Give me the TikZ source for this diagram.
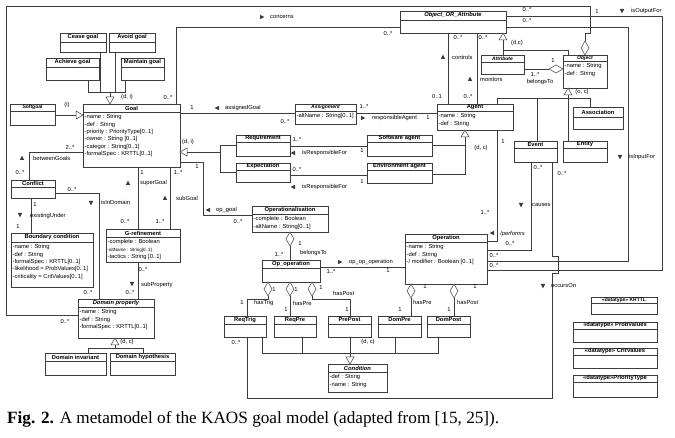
\documentclass[tikz,border=0pt]{standalone}
\usepackage{fontspec}
\setmainfont{Liberation Sans}
\newfontfamily\capfont{Liberation Serif}
\definecolor{lc}{RGB}{60,60,60}
\newcommand\ttlfont{\bfseries\fontsize{5.8}{6}\selectfont}
\newcommand\attfont{\fontsize{5.8}{7.4}\selectfont}
\newcommand\lblfont{\fontsize{5.8}{7}\selectfont}
\newcommand\smt{\fontsize{5}{5}\selectfont}
\newcounter{lab}
\tikzset{
  cls/.style={draw=lc, line width=0.6pt, inner sep=0pt, outer sep=0pt, anchor=north west},
  ttl/.style={font=\ttlfont, inner sep=0pt},
  att/.style={font=\attfont, inner sep=0pt, anchor=north west, align=left},
  lbl/.style={font=\lblfont, inner sep=0pt},
  conn/.style={draw=lc, line width=0.5pt},
  gen/.style={draw=lc, line width=0.5pt, fill=white},
}
% name, x1, y1, x2, y2, separator y, title, attributes
\newcommand\ubox[8]{%
  \node[cls, minimum width={(#4-#2)*1pt}, minimum height={(#5-#3)*1pt}] (#1) at (#2,#3) {};
  \draw[lc, line width=0.5pt] (#2,#6) -- (#4,#6);
  \node[ttl] (#1-t) at ({(#2+#4)/2},{(#3+#6)/2}) {#7};
  \node[att] (#1-a) at (#2+1.5,#6+2.3) {#8};
}
\newcommand\lab[2]{\stepcounter{lab}\node[lbl] (lab\thelab) at (#1) {#2};}
\newcommand\labw[2]{\stepcounter{lab}\node[lbl,anchor=west] (lab\thelab) at (#1) {#2};}
\newcommand\arU[1]{\fill[lc] (#1) ++(-2.2,2) -- ++(4.4,0) -- ++(-2.2,-4.4) -- cycle;}
\newcommand\arD[1]{\fill[lc] (#1) ++(-2.2,-2) -- ++(4.4,0) -- ++(-2.2,4.4) -- cycle;}
\newcommand\arL[1]{\fill[lc] (#1) ++(2,-2.2) -- ++(0,4.4) -- ++(-4.4,-2.2) -- cycle;}
\newcommand\arR[1]{\fill[lc] (#1) ++(-2,-2.2) -- ++(0,4.4) -- ++(4.4,-2.2) -- cycle;}
\newcommand\dtype{\textless\textless datatype\textgreater\textgreater}
\begin{document}
\begin{tikzpicture}[x=1pt,y=-1pt]
\useasboundingbox (0,0) rectangle (675,438);
\fill[white] (0,0) rectangle (675,438);

% ---------- classes ----------
\ubox{cease}{60}{33}{106}{52}{42}{Cease goal}{}
\ubox{avoid}{109}{33}{155}{52}{42}{Avoid goal}{}
\ubox{achieve}{46}{58}{99}{80}{67}{Achieve goal}{}
\ubox{maintain}{121}{58}{164}{80}{67}{Maintain goal}{}
\ubox{soft}{10}{104}{55}{125}{111}{\smt Softgoal}{}
\ubox{goal}{83}{104}{180}{167}{112}{Goal}{-name : String\\-def : String\\-priority : PriorityType[0..1]\\-owner : String [0..1]\\-categor : String[0..1]\\-formalSpec : KRTTL[0..1]}
\ubox{objattr}{400}{11}{506}{33}{20}{\itshape Object\_OR\_Attribute}{}
\ubox{attribute}{481}{55}{524}{74}{62}{\smt\itshape Attribute}{}
\ubox{object}{563}{55}{607}{88}{61}{\smt\itshape Object}{-name : String\\-def : String}
\ubox{assignment}{295}{104}{356}{124}{111}{\smt\itshape Assignment}{-altName : String[0..1]}
\ubox{agent}{437}{104}{513}{130}{111}{Agent}{-name : String\\-def : String}
\ubox{requirement}{236}{135}{290}{156}{142}{Requirement}{}
\ubox{expectation}{236}{163}{290}{182}{170}{Expectation}{}
\ubox{softagent}{367}{135}{432}{156}{142}{Software agent}{}
\ubox{envagent}{367}{163}{432}{183}{170}{Environment agent}{}
\ubox{association}{573}{107}{623}{129}{117}{Association}{}
\ubox{event}{514}{141}{557}{162}{148}{Event}{}
\ubox{entity}{563}{141}{607}{162}{148}{Entity}{}
\ubox{conflict}{11}{180}{55}{198}{187}{Conflict}{}
\ubox{boundary}{11}{233}{93}{287}{242}{Boundary condition}{-name : String\\-def : String\\-formalSpec : KRTTL[0..1]\\-likelihood = ProbValues[0..1]\\-criticality = CritValues[0..1]}
\ubox{grefinement}{106}{229}{180}{262}{237}{G-refinement}{-complete : Boolean\\{\fontsize{4.5}{7.4}\selectfont -altName : String[0..1]}\\-tactics : String [0..1]}
\ubox{operationalisation}{252}{206}{328}{232}{214}{Operationalisation}{-complete : Boolean\\-altName : String[0..1]}
\ubox{opoperation}{262}{260}{320}{282}{268}{Op\_operation}{}
\ubox{operation}{405}{234}{487}{284}{242}{Operation}{-name : String\\-def : String\\-/ modifier : Boolean [0..1]}
\ubox{domprop}{78}{299}{154}{338}{307}{\itshape Domain property}{-name : String\\-def : String\\-formalSpec : KRTTL[0..1]}
\ubox{dominv}{45}{353}{106}{375}{361}{Domain invariant}{}
\ubox{domhyp}{110}{353}{175}{375}{361}{Domain hypothesis}{}
\ubox{reqtrig}{224}{316}{266}{337}{324}{ReqTrig}{}
\ubox{reqpre}{274}{316}{316}{337}{324}{ReqPre}{}
\ubox{prepost}{328}{316}{371}{337}{324}{PrePost}{}
\ubox{dompre}{378}{316}{421}{337}{324}{DomPre}{}
\ubox{dompost}{427}{316}{470}{337}{324}{DomPost}{}
\ubox{condition}{328}{364}{387}{392}{372}{\itshape Condition}{-def : String\\-name : String}
\ubox{krttl}{591}{297}{657}{314}{303}{\fontsize{5}{5}\selectfont\dtype{} KRTTL}{}
\ubox{probvalues}{573}{322}{657}{342}{329}{\dtype{} ProbValues}{}
\ubox{critvalues}{573}{348}{657}{368}{355}{\dtype{} CritValues}{}
\ubox{prioritytype}{573}{375}{657}{397}{382}{\dtype PriorityType}{}

% ---------- connectors ----------
% goal subclasses
\draw[conn] (achieve.south -| 88,0) -- (88,92) -- (125,92) -- (maintain.south -| 125,0);
\draw[conn] (cease.south -| 100,0) -- (100,92);
\draw[conn] (avoid.south -| 115,0) -- (115,92);
\draw[conn] (110,92) -- (110,97);
\filldraw[gen] (goal.north -| 110,0) -- ++(-4,-7) -- ++(8,0) -- cycle;
% softgoal
\draw[conn] (soft.east |- 0,115) -- (76,115);
\filldraw[gen] (goal.west |- 0,115) -- ++(-7,-4) -- ++(0,8) -- cycle;
% concerns
\draw[conn] (goal.north -| 176,0) -- (176,27) -- (objattr.west |- 0,27);
% domain property belongs to object
\filldraw[gen] (object.north -| 585,0) -- ++(4,-7) -- ++(-4,-7) -- ++(-4,7) -- cycle;
\draw[conn] (585,41) -- (585,33) -- (590,33) -- (590,6) -- (6,6) -- (6,315) -- (domprop.west |- 0,315);
% controls / monitors
\draw[conn] (objattr.south -| 448,0) -- (agent.north -| 448,0);
\draw[conn] (objattr.south -| 477,0) -- (agent.north -| 477,0);
% attribute / object generalisation
\filldraw[gen] (objattr.south -| 503,0) -- ++(-4,7) -- ++(8,0) -- cycle;
\draw[conn] (503,40) -- (attribute.north -| 503,0);
\draw[conn] (503,50) -- (568,50) -- (object.north -| 568,0);
% belongsTo attribute
\filldraw[gen] (object.west |- 0,69) -- ++(-7,-4) -- ++(-7,4) -- ++(7,4) -- cycle;
\draw[conn] (549,69) -- (attribute.east |- 0,69);
% object subclasses
\filldraw[gen] (object.south -| 568,0) -- ++(-4,7) -- ++(8,0) -- cycle;
\draw[conn] (568,95) -- (568,98);
\draw[conn] (agent.north -| 497,0) -- (497,98) -- (590,98) -- (association.north -| 590,0);
\draw[conn] (537,98) -- (event.north -| 537,0);
\draw[conn] (568,98) -- (entity.north -| 568,0);
% isOutputFor / isInputFor
\draw[conn] (objattr.east |- 0,16) -- (662,16) -- (662,270) -- (operation.east |- 0,270);
\draw[conn] (objattr.east |- 0,27) -- (628,27) -- (628,261) -- (operation.east |- 0,261);
% assignedGoal / responsibleAgent
\draw[conn] (goal.east |- 0,113) -- (assignment.west |- 0,113);
\draw[conn] (assignment.east |- 0,113) -- (agent.west |- 0,113);
% requirement / expectation generalisation
\filldraw[gen] (goal.east |- 0,152) -- ++(7,-4) -- ++(0,8) -- cycle;
\draw[conn] (187,152) -- (220,152);
\draw[conn] (requirement.west |- 0,145) -- (220,145) -- (220,172) -- (expectation.west |- 0,172);
% isResponsibleFor
\draw[conn] (requirement.east |- 0,146) -- (softagent.west |- 0,146);
\draw[conn] (expectation.east |- 0,175) -- (envagent.west |- 0,175);
% agent subclasses
\filldraw[gen] (agent.south -| 465,0) -- ++(-4,7) -- ++(8,0) -- cycle;
\draw[conn] (softagent.east |- 0,145) -- (465,145);
\draw[conn] (465,137) -- (465,174) -- (envagent.east |- 0,174);
% performs / causes / occursOn
\draw[conn] (agent.south -| 497,0) -- (497,241) -- (operation.east |- 0,241);
\draw[conn] (event.south -| 531,0) -- (531,250) -- (operation.east |- 0,250);
\draw[conn] (event.south -| 552,0) -- (552,256) -- (558,256) -- (558,273) -- (552,273) -- (552,398) -- (247,398) -- (reqtrig.south -| 247,0);
% betweenGoals / isInDomain / existingUnder
\draw[conn] (conflict.north -| 29,0) -- (29,152) -- (goal.west |- 0,152);
\draw[conn] (conflict.east |- 0,193) -- (99,193) -- (domprop.north -| 99,0);
\draw[conn] (conflict.south -| 31,0) -- (boundary.north -| 31,0);
% superGoal / subGoal / op_goal / subProperty
\draw[conn] (goal.south -| 138,0) -- (grefinement.north -| 138,0);
\draw[conn] (goal.south -| 170,0) -- (grefinement.north -| 170,0);
\draw[conn] (goal.east |- 0,162) -- (203,162) -- (203,215) -- (operationalisation.west |- 0,215);
\draw[conn] (grefinement.south -| 138,0) -- (domprop.north -| 138,0);
% belongsTo operationalisation
\filldraw[gen] (operationalisation.south -| 290,0) -- ++(4,7) -- ++(-4,7) -- ++(-4,-7) -- cycle;
\draw[conn] (290,246) -- (opoperation.north -| 290,0);
% op_op_operation
\draw[conn] (opoperation.east |- 0,267) -- (operation.west |- 0,267);
% op_operation parts
\foreach \x in {268,290,312} \filldraw[gen] (opoperation.south -| \x,0) -- ++(4,7) -- ++(-4,7) -- ++(-4,-7) -- cycle;
\draw[conn] (268,296) -- (268,299) -- (247,299) -- (reqtrig.north -| 247,0);
\draw[conn] (290,296) -- (reqpre.north -| 290,0);
\draw[conn] (312,296) -- (312,299) -- (350,299) -- (prepost.north -| 350,0);
% operation parts
\foreach \x in {411,454} \filldraw[gen] (operation.south -| \x,0) -- ++(4,7) -- ++(-4,7) -- ++(-4,-7) -- cycle;
\draw[conn] (411,298) -- (dompre.north -| 411,0);
\draw[conn] (454,298) -- (dompost.north -| 454,0);
% condition generalisation
\draw[conn] (reqtrig.south -| 262,0) -- (262,353) -- (438,353) -- (dompost.south -| 438,0);
\draw[conn] (reqpre.south -| 302,0) -- (302,353);
\draw[conn] (prepost.south -| 350,0) -- (350,357);
\draw[conn] (dompre.south -| 395,0) -- (395,353);
\filldraw[gen] (condition.north -| 350,0) -- ++(-4,-7) -- ++(8,0) -- cycle;
% domain property generalisation
\filldraw[gen] (domprop.south -| 115,0) -- ++(-4,7) -- ++(8,0) -- cycle;
\draw[conn] (115,345) -- (115,348);
\draw[conn] (dominv.north -| 88,0) -- (88,348) -- (143,348) -- (domhyp.north -| 143,0);

% ---------- labels ----------
\lab{127,97}{(d, i)}
\lab{168,98}{0..*}
\lab{67,105}{(i)}
\arR{262,17}\labw{270,17}{concerns}
\lab{388,34}{0..*}
\lab{458,38}{0..*}
\lab{483,38}{0..*}
\arU{443,57}\labw{452,57}{controls}
\arU{470,79}\labw{480,79}{monitors}
\lab{437,97}{0..1}
\lab{468,97}{0..*}
\lab{517,43}{(d,c)}
\lab{553,61}{1}
\lab{535,75}{1..*}
\lab{540,82}{belongsTo}
\lab{527,10}{0..*}
\lab{527,21}{0..*}
\lab{597,12}{1}
\arD{622,11}\labw{631,11}{isOutputFor}
\lab{582,92}{(o, c)}
\lab{192,108}{1}
\arL{217,108}\labw{225,108}{assignedGoal}
\lab{285,122}{0..*}
\lab{364,107}{1..*}
\arR{363,118}\labw{372,118}{responsibleAgent}
\lab{428,118}{1}
\lab{188,142}{(d, i)}
\lab{297,140}{1..*}
\arL{293,153}\labw{302,153}{isResponsibleFor}
\lab{362,151}{1}
\lab{297,170}{0..*}
\arL{293,187}\labw{302,187}{isResponsibleFor}
\lab{362,182}{1}
\lab{481,148}{(d, c)}
\lab{503,142}{1}
\lab{485,213}{1..*}
\arL{492,233}\labw{500,234}{\itshape /performs}
\lab{538,168}{0..*}
\arD{521,205}\labw{532,205}{causes}
\lab{510,244}{0..*}
\lab{494,256}{0..*}
\lab{494,266}{0..*}
\arD{620,157}\labw{629,157}{isInputFor}
\lab{562,174}{0..*}
\arD{543,286}\labw{551,286}{occursOn}
\lab{70,147}{2..*}
\arU{22,158}\labw{33,158}{betweenGoals}
\lab{20,173}{0..*}
\lab{72,190}{0..*}
\arD{91,203}\labw{101,202}{isInDomain}
\lab{35,205}{1}
\arD{20,215}\labw{30,216}{existingUnder}
\lab{18,227}{1}
\lab{142,173}{1}
\arU{128,183}\labw{140,183}{superGoal}
\arU{165,198}\labw{176,198}{subGoal}
\lab{178,173}{1..*}
\lab{125,222}{0..*}
\lab{160,222}{1..*}
\lab{197,167}{1}
\arL{208,210}\labw{216,210}{op\_goal}
\lab{238,222}{0..*}
\lab{143,270}{0..*}
\arD{132,284}\labw{141,285}{subProperty}
\lab{130,293}{0..*}
\lab{88,293}{0..*}
\lab{65,322}{0..*}
\lab{127,342}{(d, c)}
\lab{300,244}{1}
\labw{300,253}{belongsTo}
\lab{279,255}{1..*}
\arR{340,262}\labw{349,262}{op\_op\_operation}
\lab{331,272}{1..*}
\lab{388,271}{1}
\lab{274,290}{1}
\lab{296,290}{1}
\lab{321,288}{1}
\lab{242,303}{1}
\labw{254,303}{hasTrig}
\labw{293,303}{hasPre}
\lab{286,310}{1}
\labw{333,293}{hasPost}
\lab{347,310}{1}
\lab{425,287}{1}
\labw{413,302}{hasPre}
\lab{400,310}{1}
\lab{475,287}{1}
\labw{457,302}{hasPost}
\lab{449,310}{1}
\lab{236,343}{0..*}
\lab{368,342}{(d, c)}

% ---------- caption ----------
\node[anchor=base west, inner sep=0pt, font=\capfont\fontsize{17.2}{20}\selectfont] (caption) at (7,424)
  {\textbf{Fig. 2.} A metamodel of the KAOS goal model (adapted from [15, 25]).};
\end{tikzpicture}
\end{document}
